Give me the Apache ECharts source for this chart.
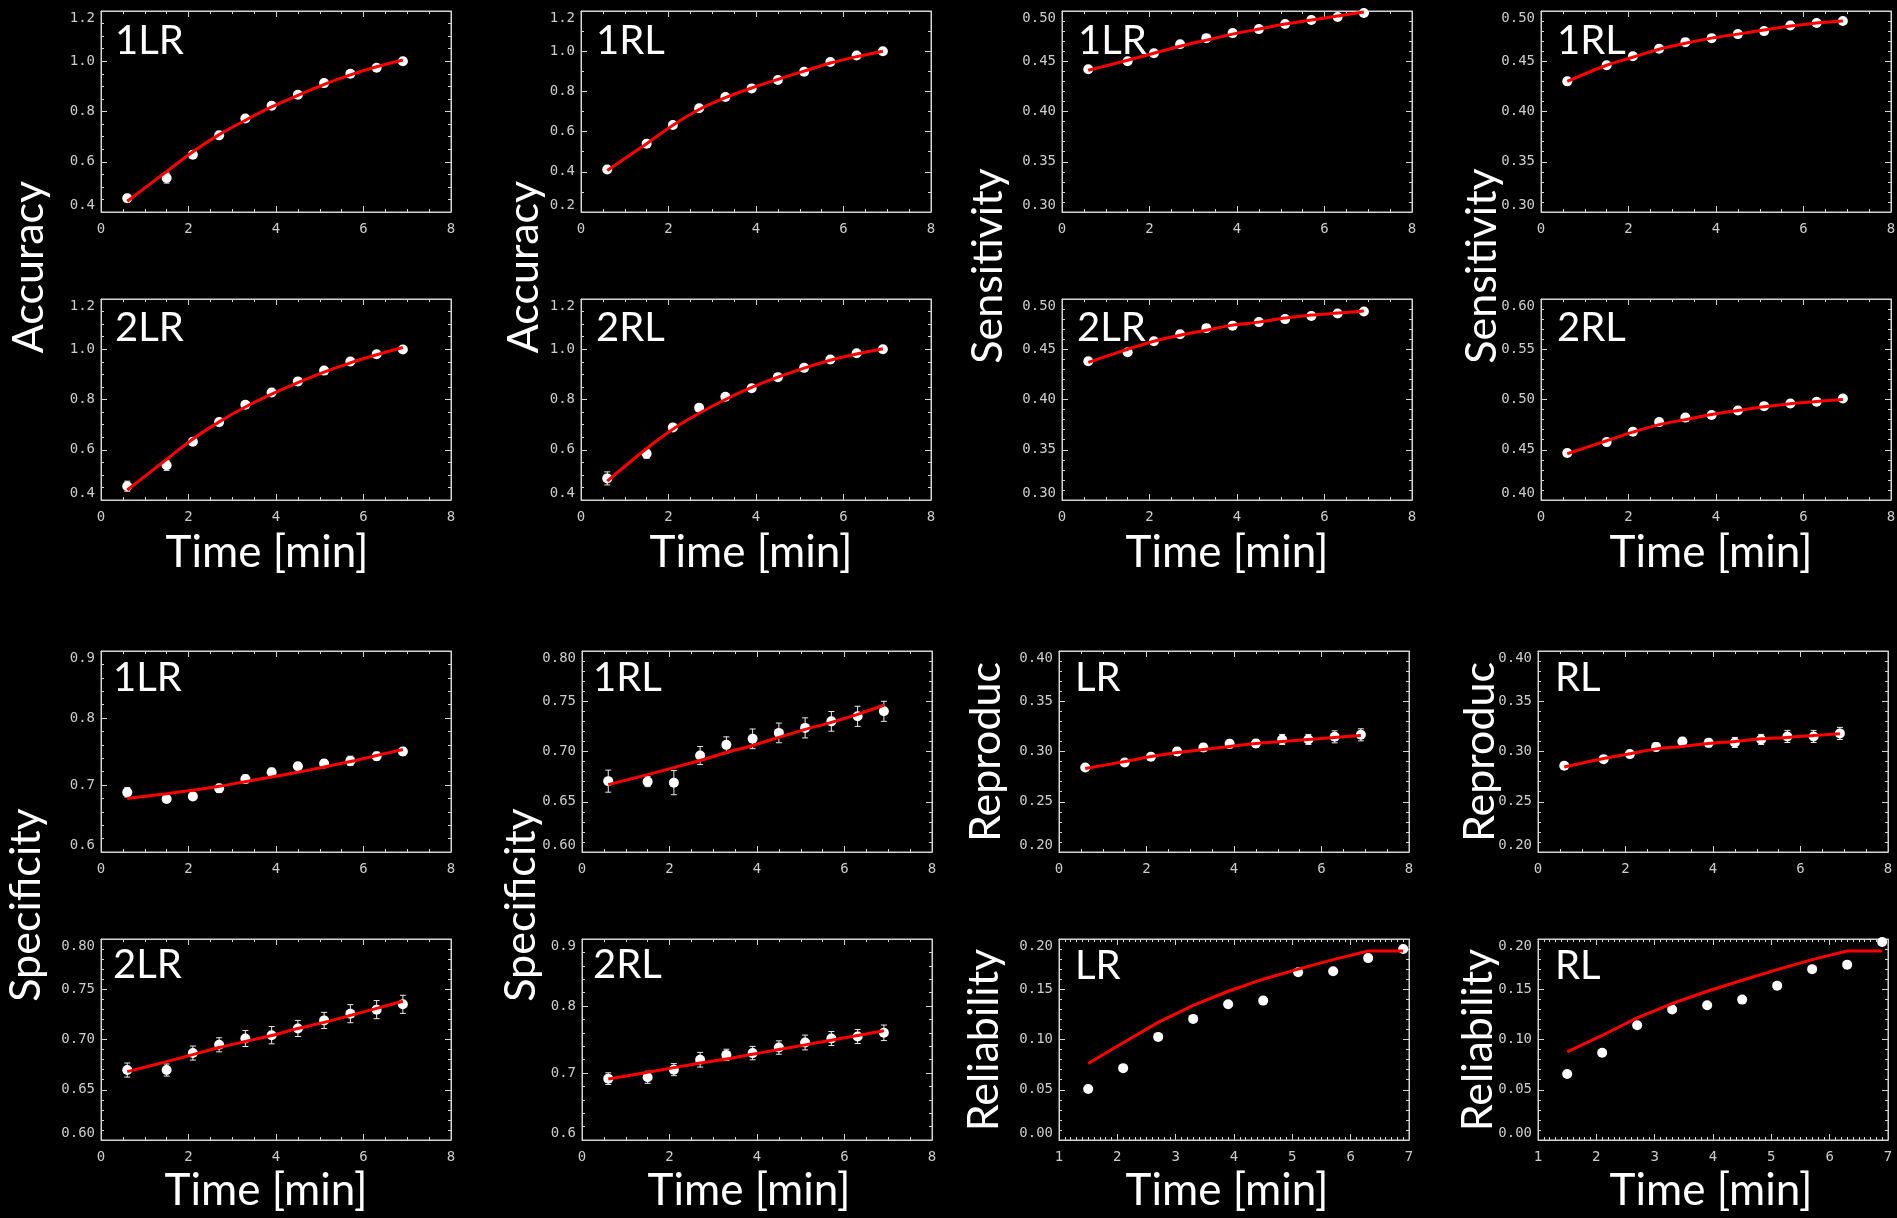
<!DOCTYPE html>
<html>
<head>
<meta charset="utf-8">
<script src="https://cdn.jsdelivr.net/npm/echarts@6/dist/echarts.min.js"></script>
<style>
  html, body { margin: 0; padding: 0; background: #000; }
  #chart { width: 1897px; height: 1218px; }
</style>
</head>
<body>
<div id="chart"></div>
<script>
// ---- time points (minutes) ----
const TIME = [0.6, 1.5, 2.1, 2.7, 3.3, 3.9, 4.5, 5.1, 5.7, 6.3, 6.9];
const TIME_REL = [1.5, 2.1, 2.7, 3.3, 3.9, 4.5, 5.1, 5.7, 6.3, 6.9];

// ---- tick labels ----
const TICKS_X = [0, 2, 4, 6, 8];
const TICKS_X_REL = [1, 2, 3, 4, 5, 6, 7];
const TICKS_ACC = [0.4, 0.6, 0.8, 1.0, 1.2];
const TICKS_ACC_WIDE = [0.2, 0.4, 0.6, 0.8, 1.0, 1.2];
const TICKS_SENS = [0.30, 0.35, 0.40, 0.45, 0.50];
const TICKS_SENS_HI = [0.40, 0.45, 0.50, 0.55, 0.60];
const TICKS_SPEC_WIDE = [0.6, 0.7, 0.8, 0.9];
const TICKS_SPEC = [0.60, 0.65, 0.70, 0.75, 0.80];
const TICKS_REP = [0.20, 0.25, 0.30, 0.35, 0.40];
const TICKS_REL = [0.00, 0.05, 0.10, 0.15, 0.20];

// ---- Accuracy ----
const acc1LR    = [0.455, 0.535, 0.628, 0.705, 0.772, 0.823, 0.867, 0.913, 0.950, 0.974, 1.000];
const acc1LRErr = [0.015, 0.020, 0.015, 0.012, 0.010, 0.008, 0.008, 0.007, 0.006, 0.005, 0.004];
const acc1LRFit = [0.443, 0.561, 0.640, 0.708, 0.765, 0.818, 0.864, 0.908, 0.946, 0.978, 1.005];

const acc2LR    = [0.455, 0.538, 0.632, 0.710, 0.779, 0.828, 0.872, 0.915, 0.951, 0.980, 0.999];
const acc2LRErr = [0.020, 0.020, 0.015, 0.012, 0.010, 0.008, 0.008, 0.007, 0.006, 0.005, 0.004];
const acc2LRFit = [0.440, 0.562, 0.643, 0.711, 0.770, 0.821, 0.867, 0.909, 0.946, 0.978, 1.007];

const acc1RL    = [0.411, 0.540, 0.633, 0.716, 0.772, 0.815, 0.857, 0.898, 0.946, 0.979, 1.000];
const acc1RLErr = [0.012, 0.014, 0.012, 0.010, 0.009, 0.008, 0.008, 0.007, 0.006, 0.005, 0.004];
const acc1RLFit = [0.406, 0.540, 0.632, 0.710, 0.769, 0.817, 0.860, 0.901, 0.941, 0.973, 1.000];

const acc2RL    = [0.486, 0.584, 0.689, 0.767, 0.811, 0.845, 0.889, 0.926, 0.959, 0.984, 1.000];
const acc2RLErr = [0.026, 0.018, 0.012, 0.010, 0.008, 0.008, 0.007, 0.006, 0.006, 0.005, 0.004];
const acc2RLFit = [0.475, 0.605, 0.682, 0.745, 0.800, 0.848, 0.889, 0.925, 0.956, 0.981, 1.002];

// ---- Sensitivity ----
const sens1LR    = [0.442, 0.450, 0.458, 0.467, 0.473, 0.478, 0.482, 0.487, 0.491, 0.494, 0.498];
const sens1LRErr = [0.002, 0.002, 0.002, 0.002, 0.002, 0.002, 0.002, 0.002, 0.002, 0.002, 0.002];
const sens1LRFit = [0.441, 0.451, 0.458, 0.465, 0.471, 0.477, 0.482, 0.487, 0.491, 0.495, 0.499];

const sens2LR    = [0.438, 0.447, 0.458, 0.465, 0.471, 0.4735, 0.477, 0.480, 0.483, 0.4855, 0.4875];
const sens2LRErr = [0.003, 0.003, 0.003, 0.003, 0.003, 0.003, 0.003, 0.003, 0.003, 0.003, 0.003];
const sens2LRFit = [0.437, 0.450, 0.458, 0.464, 0.469, 0.474, 0.477, 0.481, 0.484, 0.486, 0.488];

const sens1RL    = [0.430, 0.446, 0.455, 0.4625, 0.469, 0.473, 0.477, 0.480, 0.4855, 0.488, 0.490];
const sens1RLErr = [0.002, 0.002, 0.002, 0.002, 0.002, 0.002, 0.002, 0.002, 0.002, 0.002, 0.002];
const sens1RLFit = [0.430, 0.446, 0.454, 0.462, 0.468, 0.473, 0.477, 0.481, 0.485, 0.488, 0.490];

const sens2RL    = [0.4467, 0.4576, 0.468, 0.4775, 0.482, 0.4845, 0.489, 0.4934, 0.496, 0.4977, 0.501];
const sens2RLErr = [0.003, 0.003, 0.003, 0.003, 0.003, 0.003, 0.003, 0.003, 0.003, 0.003, 0.003];
const sens2RLFit = [0.446, 0.459, 0.4675, 0.475, 0.480, 0.485, 0.489, 0.4927, 0.4957, 0.498, 0.500];

// ---- Specificity ----
const spec1LR    = [0.689, 0.679, 0.683, 0.695, 0.709, 0.719, 0.728, 0.732, 0.736, 0.743, 0.750];
const spec1LRErr = [0.007, 0.004, 0.005, 0.006, 0.006, 0.006, 0.005, 0.006, 0.007, 0.006, 0.006];
const spec1LRFit = [0.680, 0.687, 0.692, 0.698, 0.705, 0.712, 0.719, 0.727, 0.735, 0.744, 0.753];

const spec2LR    = [0.6696, 0.6696, 0.6865, 0.6947, 0.701, 0.7043, 0.711, 0.719, 0.7257, 0.7297, 0.735];
const spec2LRErr = [0.007, 0.006, 0.007, 0.007, 0.008, 0.0086, 0.008, 0.008, 0.009, 0.009, 0.009];
const spec2LRFit = [0.668, 0.678, 0.685, 0.692, 0.698, 0.704, 0.711, 0.717, 0.724, 0.731, 0.738];

const spec1RL    = [0.6705, 0.670, 0.669, 0.696, 0.7066, 0.7126, 0.7185, 0.7235, 0.730, 0.735, 0.740];
const spec1RLErr = [0.011, 0.005, 0.012, 0.009, 0.008, 0.0098, 0.0098, 0.010, 0.0098, 0.010, 0.010];
const spec1RLFit = [0.667, 0.677, 0.684, 0.691, 0.699, 0.706, 0.714, 0.722, 0.729, 0.737, 0.746];

const spec2RL    = [0.6916, 0.6936, 0.705, 0.7198, 0.727, 0.7297, 0.738, 0.7455, 0.7515, 0.7545, 0.760];
const spec2RLErr = [0.0087, 0.009, 0.009, 0.011, 0.0085, 0.010, 0.010, 0.011, 0.0105, 0.0105, 0.0116];
const spec2RLFit = [0.691, 0.701, 0.708, 0.715, 0.721, 0.728, 0.735, 0.742, 0.749, 0.756, 0.763];

// ---- Reproducibility ----
const repLR    = [0.284, 0.289, 0.2947, 0.300, 0.304, 0.3076, 0.308, 0.312, 0.312, 0.3146, 0.3166];
const repLRErr = [0.002, 0.003, 0.003, 0.004, 0.004, 0.004, 0.004, 0.005, 0.005, 0.006, 0.006];
const repLRFit = [0.283, 0.290, 0.295, 0.299, 0.302, 0.305, 0.308, 0.310, 0.312, 0.314, 0.316];

const repRL    = [0.2858, 0.2924, 0.2974, 0.3046, 0.310, 0.3086, 0.309, 0.312, 0.315, 0.315, 0.318];
const repRLErr = [0.003, 0.003, 0.003, 0.004, 0.004, 0.004, 0.005, 0.005, 0.006, 0.006, 0.006];
const repRLFit = [0.2845, 0.293, 0.2977, 0.3026, 0.305, 0.308, 0.310, 0.3126, 0.314, 0.316, 0.3176];

// ---- Reliability ----
const relLR    = [0.0507, 0.0715, 0.1026, 0.1205, 0.135, 0.1387, 0.1669, 0.1679, 0.181, 0.190];
const relLRFit = [0.0762, 0.0967, 0.117, 0.134, 0.148, 0.160, 0.170, 0.1795, 0.188, 0.188];
const relRL    = [0.0656, 0.0868, 0.1142, 0.1298, 0.134, 0.1397, 0.1536, 0.170, 0.1745, 0.197];
const relRLFit = [0.0877, 0.104, 0.1215, 0.1358, 0.148, 0.159, 0.1695, 0.1795, 0.188, 0.188];

// ---- panel layout ----
const W = 350, H = 201;
const panels = [
  { label: '1LR', x: TIME, y: acc1LR, err: acc1LRErr, fit: acc1LRFit, xt: TICKS_X, yt: TICKS_ACC, yMinor: 4, dec: 1, left: 101, top: 11, lx: 115, capTop: 26 },
  { label: '2LR', x: TIME, y: acc2LR, err: acc2LRErr, fit: acc2LRFit, xt: TICKS_X, yt: TICKS_ACC, yMinor: 4, dec: 1, left: 101, top: 299, lx: 115, capTop: 313 },
  { label: '1RL', x: TIME, y: acc1RL, err: acc1RLErr, fit: acc1RLFit, xt: TICKS_X, yt: TICKS_ACC_WIDE, yMinor: 2, dec: 1, left: 581, top: 11, lx: 596, capTop: 26 },
  { label: '2RL', x: TIME, y: acc2RL, err: acc2RLErr, fit: acc2RLFit, xt: TICKS_X, yt: TICKS_ACC, yMinor: 4, dec: 1, left: 581, top: 299, lx: 596, capTop: 313 },
  { label: '1LR', x: TIME, y: sens1LR, err: sens1LRErr, fit: sens1LRFit, xt: TICKS_X, yt: TICKS_SENS, yMinor: 5, dec: 2, left: 1062, top: 11, lx: 1078, capTop: 26 },
  { label: '2LR', x: TIME, y: sens2LR, err: sens2LRErr, fit: sens2LRFit, xt: TICKS_X, yt: TICKS_SENS, yMinor: 5, dec: 2, left: 1062, top: 299, lx: 1077, capTop: 313 },
  { label: '1RL', x: TIME, y: sens1RL, err: sens1RLErr, fit: sens1RLFit, xt: TICKS_X, yt: TICKS_SENS, yMinor: 5, dec: 2, left: 1541, top: 11, lx: 1557, capTop: 26 },
  { label: '2RL', x: TIME, y: sens2RL, err: sens2RLErr, fit: sens2RLFit, xt: TICKS_X, yt: TICKS_SENS_HI, yMinor: 5, dec: 2, left: 1541, top: 299, lx: 1557, capTop: 313 },
  { label: '1LR', x: TIME, y: spec1LR, err: spec1LRErr, fit: spec1LRFit, xt: TICKS_X, yt: TICKS_SPEC_WIDE, yMinor: 5, dec: 1, left: 101, top: 651, lx: 113, capTop: 663 },
  { label: '2LR', x: TIME, y: spec2LR, err: spec2LRErr, fit: spec2LRFit, xt: TICKS_X, yt: TICKS_SPEC, yMinor: 5, dec: 2, left: 101, top: 939, lx: 113, capTop: 950 },
  { label: '1RL', x: TIME, y: spec1RL, err: spec1RLErr, fit: spec1RLFit, xt: TICKS_X, yt: TICKS_SPEC, yMinor: 5, dec: 2, left: 582, top: 651, lx: 593, capTop: 663 },
  { label: '2RL', x: TIME, y: spec2RL, err: spec2RLErr, fit: spec2RLFit, xt: TICKS_X, yt: TICKS_SPEC_WIDE, yMinor: 5, dec: 1, left: 582, top: 939, lx: 593, capTop: 950 },
  { label: 'LR', x: TIME, y: repLR, err: repLRErr, fit: repLRFit, xt: TICKS_X, yt: TICKS_REP, yMinor: 5, dec: 2, left: 1059, top: 651, lx: 1075, capTop: 663 },
  { label: 'LR', x: TIME_REL, y: relLR, err: null, fit: relLRFit, xt: TICKS_X_REL, xMinor: 10, yt: TICKS_REL, yMinor: 5, dec: 2, left: 1059, top: 939, lx: 1075, capTop: 951, sharp: true },
  { label: 'RL', x: TIME, y: repRL, err: repRLErr, fit: repRLFit, xt: TICKS_X, yt: TICKS_REP, yMinor: 5, dec: 2, left: 1538, top: 651, lx: 1555, capTop: 663 },
  { label: 'RL', x: TIME_REL, y: relRL, err: null, fit: relRLFit, xt: TICKS_X_REL, xMinor: 10, yt: TICKS_REL, yMinor: 5, dec: 2, left: 1538, top: 939, lx: 1555, capTop: 951, sharp: true }
];

// axis titles: [text, centre x, centre y, rotated]
const titles = [
  ['Accuracy', 29, 267, true], ['Accuracy', 524, 267, true],
  ['Sensitivity', 988, 266, true], ['Sensitivity', 1482, 266, true],
  ['Specificity', 26, 905, true], ['Specificity', 521, 905, true],
  ['Reproduc', 986, 752, true], ['Reproduc', 1480, 752, true],
  ['Reliability', 984, 1040, true], ['Reliability', 1478, 1040, true],
  ['Time [min]', 267, 553, false], ['Time [min]', 751, 553, false],
  ['Time [min]', 1227, 553, false], ['Time [min]', 1711, 553, false],
  ['Time [min]', 266, 1191, false], ['Time [min]', 749, 1191, false],
  ['Time [min]', 1227, 1191, false], ['Time [min]', 1711, 1191, false]
];

const AXIS_COLOR = '#d4d4d4';
const LABEL_COLOR = '#cccccc';
const TICK_FONT = 'DejaVu Sans Mono';
const TITLE_FONT = 'Lato';

function step(t) { return +(t[1] - t[0]).toFixed(6); }

function axisPair(kind, i, ticks, minor, dec) {
  const base = {
    type: 'value',
    gridIndex: i,
    min: ticks[0],
    max: ticks[ticks.length - 1],
    interval: step(ticks),
    splitLine: { show: false },
    minorSplitLine: { show: false },
    axisTick: { show: true, inside: true, length: 6, lineStyle: { color: AXIS_COLOR, width: 1 } },
    minorTick: { show: true, splitNumber: minor, length: 3, lineStyle: { color: AXIS_COLOR, width: 1 } },
    axisLine: { show: true, onZero: false, lineStyle: { color: AXIS_COLOR, width: 1 } }
  };
  const labelled = Object.assign({}, base, {
    position: kind === 'x' ? 'bottom' : 'left',
    axisLabel: {
      show: true, color: LABEL_COLOR, fontFamily: TICK_FONT, fontSize: 14,
      margin: kind === 'x' ? 10 : 6,
      formatter: v => v.toFixed(dec),
      showMinLabel: true, showMaxLabel: true
    }
  });
  if (kind === 'y') {
    labelled.axisLabel.verticalAlignMinLabel = 'bottom';
    labelled.axisLabel.verticalAlignMaxLabel = 'top';
  }
  const mirror = Object.assign({}, base, {
    position: kind === 'x' ? 'top' : 'right',
    axisLabel: { show: false }
  });
  return [labelled, mirror];
}

function renderErrorBar(params, api) {
  const t = api.value(0), v = api.value(1), e = api.value(2);
  const lo = api.coord([t, v - e]);
  const hi = api.coord([t, v + e]);
  const cap = 3;
  const st = { stroke: '#e8e8e8', lineWidth: 1 };
  return {
    type: 'group',
    children: [
      { type: 'line', shape: { x1: lo[0], y1: lo[1], x2: hi[0], y2: hi[1] }, style: st },
      { type: 'line', shape: { x1: lo[0] - cap, y1: lo[1], x2: lo[0] + cap, y2: lo[1] }, style: st },
      { type: 'line', shape: { x1: hi[0] - cap, y1: hi[1], x2: hi[0] + cap, y2: hi[1] }, style: st }
    ]
  };
}

const grid = [], xAxis = [], yAxis = [], series = [], graphic = [];

panels.forEach((p, i) => {
  grid.push({
    left: p.left, top: p.top, width: W, height: H,
    show: true, borderColor: AXIS_COLOR, borderWidth: 1,
    backgroundColor: 'transparent', containLabel: false, outerBoundsMode: 'none'
  });
  xAxis.push(...axisPair('x', i, p.xt, p.xMinor || 4, 0));
  yAxis.push(...axisPair('y', i, p.yt, p.yMinor, p.dec));
  const xi = 2 * i, yi = 2 * i;

  if (p.err) {
    series.push({
      type: 'custom', xAxisIndex: xi, yAxisIndex: yi, z: 2,
      renderItem: renderErrorBar,
      dimensions: ['t', 'v', 'e'],
      encode: { x: 't', y: 'v' },
      data: p.x.map((t, k) => [t, p.y[k], p.err[k]])
    });
  }
  series.push({
    type: 'scatter', xAxisIndex: xi, yAxisIndex: yi, z: 3,
    symbol: 'circle', symbolSize: 10,
    itemStyle: { color: '#ffffff', opacity: 1 },
    data: p.x.map((t, k) => [t, p.y[k]])
  });
  series.push({
    type: 'line', xAxisIndex: xi, yAxisIndex: yi, z: 4,
    showSymbol: false, symbol: 'none',
    smooth: p.sharp ? false : 0.3,
    lineStyle: { color: '#ff0000', width: 3 },
    data: p.x.map((t, k) => [t, p.fit[k]])
  });

  graphic.push({
    type: 'text', x: p.lx, y: p.capTop + 15, z: 10,
    style: {
      text: p.label, fill: '#ffffff', font: '40px ' + TITLE_FONT,
      align: 'left', verticalAlign: 'middle',
      textAlign: 'left', textVerticalAlign: 'middle'
    }
  });
});

titles.forEach(([txt, cx, cy, rot]) => {
  graphic.push({
    type: 'text', x: cx, y: cy, rotation: rot ? Math.PI / 2 : 0, z: 10,
    style: {
      text: txt, fill: '#ffffff', font: (rot ? '43px ' : '44px ') + TITLE_FONT,
      align: 'center', verticalAlign: 'middle',
      textAlign: 'center', textVerticalAlign: 'middle'
    }
  });
});

const chart = echarts.init(document.getElementById('chart'), null, { renderer: 'canvas' });
chart.setOption({
  backgroundColor: '#000000',
  animation: false,
  grid, xAxis, yAxis, series, graphic
});
</script>
</body>
</html>
